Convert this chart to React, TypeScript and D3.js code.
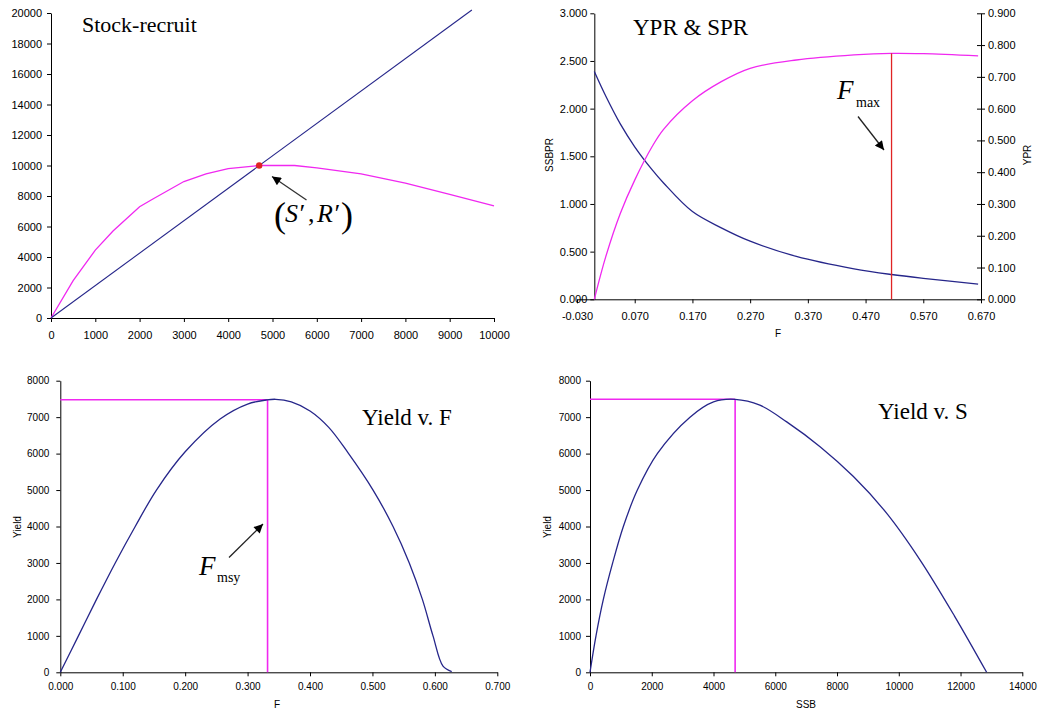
import React, { useEffect, useRef } from 'react';
import * as d3 from 'd3';

const W = 1046;
const H = 713;

// Stock-recruit panel
const srS = [0, 500, 1000, 1400, 2000, 2300, 3000, 3500, 4000, 4700, 5500, 6000, 7000, 8000, 9000, 10000];
const srR = [0, 2450, 4450, 5700, 7300, 7800, 8950, 9450, 9800, 10000, 10000, 9850, 9450, 8850, 8100, 7350];
const replS = [0, 9500];
const replR = [0, 20200];
const eqPoint = { S: 4700, R: 10000 };
const srXTicks = [0, 1000, 2000, 3000, 4000, 5000, 6000, 7000, 8000, 9000, 10000];
const srYTicks = [0, 2000, 4000, 6000, 8000, 10000, 12000, 14000, 16000, 18000, 20000];

// YPR & SPR panel
const prF = [0, 0.02, 0.045, 0.07, 0.1, 0.12, 0.17, 0.22, 0.27, 0.35, 0.45, 0.515, 0.57, 0.665];
const ssbpr = [2.39, 2.13, 1.84, 1.6, 1.36, 1.22, 0.92, 0.75, 0.61, 0.45, 0.32, 0.26, 0.22, 0.16];
const ypr = [0, 0.135, 0.27, 0.375, 0.48, 0.535, 0.625, 0.685, 0.727, 0.753, 0.769, 0.774, 0.773, 0.766];
const fMax = 0.515;
const yprAtFmax = 0.774;
const prXTicks = [-0.03, 0.07, 0.17, 0.27, 0.37, 0.47, 0.57, 0.67];
const prLTicks = [0, 0.5, 1, 1.5, 2, 2.5, 3];
const prRTicks = [0, 0.1, 0.2, 0.3, 0.4, 0.5, 0.6, 0.7, 0.8, 0.9];

// Yield v. F panel
const yfF = [0, 0.029, 0.058, 0.088, 0.12, 0.154, 0.2, 0.256, 0.3, 0.33, 0.345, 0.37, 0.4, 0.43, 0.461, 0.501, 0.533, 0.559, 0.58, 0.597, 0.613, 0.627];
const yfY = [0, 1000, 2000, 3000, 4000, 5000, 6050, 6950, 7360, 7470, 7490, 7420, 7170, 6720, 6020, 5000, 4000, 3000, 2000, 1000, 170, 20];
const fMsy = 0.332;
const msyF = 7480;
const yfXTicks = [0, 0.1, 0.2, 0.3, 0.4, 0.5, 0.6, 0.7];
const yieldTicks = [0, 1000, 2000, 3000, 4000, 5000, 6000, 7000, 8000];

// Yield v. S panel
const ysS = [0, 194, 432, 734, 1080, 1533, 2180, 3238, 4000, 4700, 5500, 6371, 7451, 8531, 9611, 10691, 11800, 12845];
const ysY = [0, 1000, 2000, 3000, 4000, 5000, 6000, 7000, 7420, 7490, 7330, 6870, 6190, 5370, 4360, 3080, 1550, 0];
const sMsy = 4700;
const msyS = 7490;
const ysXTicks = [0, 2000, 4000, 6000, 8000, 10000, 12000, 14000];

const BLUE = '#26268a';
const PINK = '#f028f0';
const RED = '#e02424';
const SANS = '"Liberation Sans", Arial, sans-serif';
const SERIF = '"Liberation Serif", "Times New Roman", serif';

function styleAxis(a, size) {
    a.attr('font-family', SANS).attr('font-size', size);
    a.selectAll('text').attr('fill', '#000');
    a.selectAll('line').attr('stroke', '#000');
    a.select('.domain').attr('stroke', '#000');
}

export default function App() {
    const svgRef = useRef<SVGSVGElement>(null);

    useEffect(() => {
        const svg = d3.select(svgRef.current);
        svg.selectAll('*').remove();

        svg.append('defs').append('marker')
            .attr('id', 'arrowhead')
            .attr('viewBox', '0 0 10 10')
            .attr('refX', 10)
            .attr('refY', 5)
            .attr('markerUnits', 'userSpaceOnUse')
            .attr('markerWidth', 11)
            .attr('markerHeight', 9)
            .attr('orient', 'auto')
            .append('path')
            .attr('d', 'M0,0 L10,5 L0,10 Z')
            .attr('fill', '#000');

        const arrow = (x1, y1, x2, y2, color) => {
            svg.append('line')
                .attr('x1', x1).attr('y1', y1).attr('x2', x2).attr('y2', y2)
                .attr('stroke', color).attr('stroke-width', 1.3)
                .attr('marker-end', 'url(#arrowhead)');
        };

        const label = (x, y, txt, size, rotate = false) => {
            svg.append('text')
                .attr('transform', rotate ? `translate(${x},${y}) rotate(-90)` : `translate(${x},${y})`)
                .attr('text-anchor', 'middle')
                .attr('font-family', SANS)
                .attr('font-size', size)
                .text(txt);
        };

        const serifText = (x, y, txt, size, italic = false) => {
            svg.append('text')
                .attr('x', x).attr('y', y)
                .attr('font-family', SERIF)
                .attr('font-size', size)
                .attr('font-style', italic ? 'italic' : 'normal')
                .text(txt);
        };

        const fmtInt = d3.format('d');
        const fmt3 = (d) => d.toFixed(3);
        const smooth = d3.curveCatmullRom.alpha(0.5);

        // ---------- Panel 1: Stock-recruit ----------
        {
            const x = d3.scaleLinear().domain([0, 10000]).range([51, 494]);
            const y = d3.scaleLinear().domain([0, 20000]).range([318, 13]);
            const ax = svg.append('g').attr('transform', `translate(0,${y(0)})`)
                .call(d3.axisBottom(x).tickValues(srXTicks).tickFormat(fmtInt).tickSize(4).tickSizeOuter(0).tickPadding(9));
            styleAxis(ax, 11);
            const ay = svg.append('g').attr('transform', `translate(${x(0)},0)`)
                .call(d3.axisLeft(y).tickValues(srYTicks).tickFormat(fmtInt).tickSize(4).tickSizeOuter(0).tickPadding(5));
            styleAxis(ay, 11);

            const line = d3.line<number>().x((d) => x(d)).y((d, i) => y(srR[i]));
            svg.append('path').datum(srS).attr('d', line).attr('fill', 'none')
                .attr('stroke', PINK).attr('stroke-width', 1.3);
            const rline = d3.line<number>().x((d) => x(d)).y((d, i) => y(replR[i]));
            svg.append('path').datum(replS).attr('d', rline).attr('fill', 'none')
                .attr('stroke', BLUE).attr('stroke-width', 1.1);
            svg.append('circle').attr('cx', x(eqPoint.S)).attr('cy', y(eqPoint.R)).attr('r', 3.2).attr('fill', RED);

            serifText(82, 32, 'Stock-recruit', 22);
            arrow(306.5, 200, 272, 176.5, '#333');
            serifText(274, 227, '(', 36);
            serifText(285, 222, 'S\u2032', 26, true);
            serifText(308, 222, ',', 26);
            serifText(317, 222, 'R\u2032', 26, true);
            serifText(341, 227, ')', 36);
        }

        // ---------- Panel 2: YPR & SPR ----------
        {
            const x = d3.scaleLinear().domain([-0.03, 0.67]).range([577, 981]);
            const yL = d3.scaleLinear().domain([0, 3]).range([299.3, 13.3]);
            const yR = d3.scaleLinear().domain([0, 0.9]).range([299.3, 13.3]);
            const ax = svg.append('g').attr('transform', `translate(0,${yL(0)})`)
                .call(d3.axisBottom(x).tickValues(prXTicks).tickFormat(fmt3).tickSize(4).tickSizeOuter(0).tickPadding(9));
            styleAxis(ax, 11);
            const ayL = svg.append('g').attr('transform', `translate(${x(0)},0)`)
                .call(d3.axisLeft(yL).tickValues(prLTicks).tickFormat(fmt3).tickSize(4).tickSizeOuter(0).tickPadding(3));
            styleAxis(ayL, 11);
            const ayR = svg.append('g').attr('transform', `translate(${x(0.67)},0)`)
                .call(d3.axisRight(yR).tickValues(prRTicks).tickFormat(fmt3).tickSize(4).tickSizeOuter(0).tickPadding(3));
            styleAxis(ayR, 11);
            ayR.selectAll('.tick line').attr('x1', -4);

            const lineS = d3.line<number>().x((d) => x(d)).y((d, i) => yL(ssbpr[i])).curve(smooth);
            svg.append('path').datum(prF).attr('d', lineS).attr('fill', 'none')
                .attr('stroke', BLUE).attr('stroke-width', 1.3);
            const lineY = d3.line<number>().x((d) => x(d)).y((d, i) => yR(ypr[i])).curve(smooth);
            svg.append('path').datum(prF).attr('d', lineY).attr('fill', 'none')
                .attr('stroke', PINK).attr('stroke-width', 1.3);
            svg.append('line').attr('x1', x(fMax)).attr('x2', x(fMax))
                .attr('y1', yR(0)).attr('y2', yR(yprAtFmax))
                .attr('stroke', RED).attr('stroke-width', 1.3);

            serifText(633, 35, 'YPR & SPR', 23);
            serifText(837, 99, 'F', 27, true);
            serifText(856, 107, 'max', 14);
            arrow(858, 116.5, 884, 150, '#222');

            label(778, 337, 'F', 10);
            label(553, 155, 'SSBPR', 10, true);
            label(1031, 155, 'YPR', 10, true);
        }

        // ---------- Panel 3: Yield v. F ----------
        {
            const x = d3.scaleLinear().domain([0, 0.7]).range([60.3, 497.3]);
            const y = d3.scaleLinear().domain([0, 8000]).range([672.3, 380.7]);
            const ax = svg.append('g').attr('transform', `translate(0,${y(0)})`)
                .call(d3.axisBottom(x).tickValues(yfXTicks).tickFormat(fmt3).tickSize(4).tickSizeOuter(0).tickPadding(7));
            styleAxis(ax, 10);
            const ay = svg.append('g').attr('transform', `translate(${x(0)},0)`)
                .call(d3.axisLeft(y).tickValues(yieldTicks).tickFormat(fmtInt).tickSize(4).tickSizeOuter(0).tickPadding(7));
            styleAxis(ay, 10);

            svg.append('line').attr('x1', x(0)).attr('x2', x(fMsy)).attr('y1', y(msyF)).attr('y2', y(msyF))
                .attr('stroke', PINK).attr('stroke-width', 1.5);
            svg.append('line').attr('x1', x(fMsy)).attr('x2', x(fMsy)).attr('y1', y(0)).attr('y2', y(msyF))
                .attr('stroke', PINK).attr('stroke-width', 1.6);
            const line = d3.line<number>().x((d) => x(d)).y((d, i) => y(yfY[i])).curve(smooth);
            svg.append('path').datum(yfF).attr('d', line).attr('fill', 'none')
                .attr('stroke', BLUE).attr('stroke-width', 1.3);

            serifText(362, 425, 'Yield v. F', 23);
            serifText(199, 575, 'F', 27, true);
            serifText(217, 582, 'msy', 14);
            arrow(229, 557.5, 263, 524, '#222');

            label(277, 708, 'F', 10);
            label(21, 527, 'Yield', 10, true);
        }

        // ---------- Panel 4: Yield v. S ----------
        {
            const x = d3.scaleLinear().domain([0, 14000]).range([590, 1022.3]);
            const y = d3.scaleLinear().domain([0, 8000]).range([672.3, 380.7]);
            const ax = svg.append('g').attr('transform', `translate(0,${y(0)})`)
                .call(d3.axisBottom(x).tickValues(ysXTicks).tickFormat(fmtInt).tickSize(4).tickSizeOuter(0).tickPadding(7));
            styleAxis(ax, 10);
            const ay = svg.append('g').attr('transform', `translate(${x(0)},0)`)
                .call(d3.axisLeft(y).tickValues(yieldTicks).tickFormat(fmtInt).tickSize(4).tickSizeOuter(0).tickPadding(5));
            styleAxis(ay, 10);

            svg.append('line').attr('x1', x(0)).attr('x2', x(sMsy)).attr('y1', y(msyS)).attr('y2', y(msyS))
                .attr('stroke', PINK).attr('stroke-width', 1.5);
            svg.append('line').attr('x1', x(sMsy)).attr('x2', x(sMsy)).attr('y1', y(0)).attr('y2', y(msyS))
                .attr('stroke', PINK).attr('stroke-width', 1.6);
            const line = d3.line<number>().x((d) => x(d)).y((d, i) => y(ysY[i])).curve(smooth);
            svg.append('path').datum(ysS).attr('d', line).attr('fill', 'none')
                .attr('stroke', BLUE).attr('stroke-width', 1.3);

            serifText(878, 419, 'Yield v. S', 23);

            label(806, 708, 'SSB', 10);
            label(551, 527, 'Yield', 10, true);
        }
    }, []);

    return (
        <svg
            ref={svgRef}
            width={W}
            height={H}
            style={{ position: 'absolute', left: 0, top: 0, background: '#fff' }}
        />
    );
}
